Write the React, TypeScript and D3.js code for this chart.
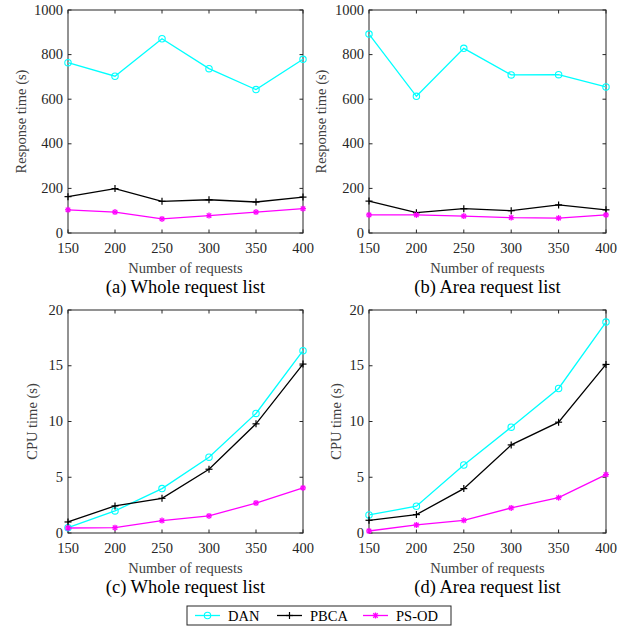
import React from "react";
import * as d3 from "d3";

const requests = [150, 200, 250, 300, 350, 400];
const seriesNames = ["DAN", "PBCA", "PS-OD"];

// (a) Response time, whole request list
const respWholeDAN = [764, 703, 871, 737, 643, 779];
const respWholePBCA = [163, 199, 142, 149, 139, 161];
const respWholePSOD = [104, 94, 63, 78, 94, 109];
// (b) Response time, area request list
const respAreaDAN = [892, 613, 828, 709, 710, 655];
const respAreaPBCA = [143, 91, 109, 100, 126, 104];
const respAreaPSOD = [81, 81, 76, 69, 67, 81];
// (c) CPU time, whole request list
const cpuWholeDAN = [0.48, 1.98, 3.98, 6.8, 10.72, 16.35];
const cpuWholePBCA = [0.99, 2.43, 3.11, 5.72, 9.79, 15.15];
const cpuWholePSOD = [0.45, 0.48, 1.11, 1.53, 2.69, 4.04];
// (d) CPU time, area request list
const cpuAreaDAN = [1.62, 2.4, 6.1, 9.49, 12.96, 18.92];
const cpuAreaPBCA = [1.14, 1.65, 3.98, 7.9, 9.94, 15.12];
const cpuAreaPSOD = [0.18, 0.72, 1.14, 2.25, 3.17, 5.24];

const respTicks = [0, 200, 400, 600, 800, 1000];
const cpuTicks = [0, 5, 10, 15, 20];

const COLORS = ["#00ffff", "#000000", "#ff00ff"];
const AXIS = "#262626";
const FONT = "'Liberation Serif', 'Times New Roman', serif";

type PanelProps = {
  left: number; right: number; top: number; bottom: number;
  yMax: number; yTicks: number[]; yLabel: string; yLabelX: number;
  caption: string; series: number[][];
};

function Marker({ kind, x, y, color }: { kind: number; x: number; y: number; color: string }) {
  if (kind === 0) return <circle cx={x} cy={y} r={3.2} fill="none" stroke={color} strokeWidth={1.1} />;
  if (kind === 1)
    return (
      <g stroke={color} strokeWidth={1.2}>
        <line x1={x - 3.5} x2={x + 3.5} y1={y} y2={y} />
        <line x1={x} x2={x} y1={y - 3.5} y2={y + 3.5} />
      </g>
    );
  const s = 3;
  const t = 2.2;
  return (
    <g stroke={color} strokeWidth={1.3}>
      <line x1={x - s} x2={x + s} y1={y} y2={y} />
      <line x1={x} x2={x} y1={y - s} y2={y + s} />
      <line x1={x - t} x2={x + t} y1={y - t} y2={y + t} />
      <line x1={x - t} x2={x + t} y1={y + t} y2={y - t} />
    </g>
  );
}

function Panel(p: PanelProps) {
  const x = d3.scaleLinear().domain([150, 400]).range([p.left, p.right]);
  const y = d3.scaleLinear().domain([0, p.yMax]).range([p.bottom, p.top]);
  const line = d3.line<number>().x((_, i) => x(requests[i])).y((d) => y(d));
  const tl = 3.5;
  const cx = (p.left + p.right) / 2;
  return (
    <g fontFamily={FONT}>
      <rect x={p.left} y={p.top} width={p.right - p.left} height={p.bottom - p.top} fill="white" stroke={AXIS} strokeWidth={1} />
      {requests.map((r) => (
        <g key={"xt" + r}>
          <line x1={x(r)} x2={x(r)} y1={p.bottom} y2={p.bottom - tl} stroke={AXIS} />
          <line x1={x(r)} x2={x(r)} y1={p.top} y2={p.top + tl} stroke={AXIS} />
          <text x={x(r)} y={p.bottom + 19.5} textAnchor="middle" fontSize={14.5} fill={AXIS}>{r}</text>
        </g>
      ))}
      {p.yTicks.map((t) => (
        <g key={"yt" + t}>
          <line x1={p.left} x2={p.left + tl} y1={y(t)} y2={y(t)} stroke={AXIS} />
          <line x1={p.right} x2={p.right - tl} y1={y(t)} y2={y(t)} stroke={AXIS} />
          <text x={p.left - 5} y={y(t) + 4.5} textAnchor="end" fontSize={14.5} fill={AXIS}>{t}</text>
        </g>
      ))}
      {p.series.map((s, si) => (
        <g key={"s" + si}>
          <path d={line(s) || ""} fill="none" stroke={COLORS[si]} strokeWidth={1.3} />
          {s.map((v, i) => (
            <Marker key={i} kind={si} x={x(requests[i])} y={y(v)} color={COLORS[si]} />
          ))}
        </g>
      ))}
      <text x={cx} y={p.bottom + 40} textAnchor="middle" fontSize={14.5} fill="#404040">Number of requests</text>
      <text
        transform={`translate(${p.yLabelX},${(p.top + p.bottom) / 2}) rotate(-90)`}
        textAnchor="middle" dominantBaseline="middle" fontSize={14.5} fill="#404040"
      >{p.yLabel}</text>
      <text x={cx} y={p.bottom + 60} textAnchor="middle" fontSize={18.5} fill="#000">{p.caption}</text>
    </g>
  );
}

export default function App() {
  const legendX = [195, 277, 363];
  return (
    <svg width={633} height={628} style={{ position: "absolute", left: 0, top: 0, background: "white" }}>
      <rect x={0} y={0} width={633} height={628} fill="white" />
      <Panel left={68} right={303} top={10} bottom={233} yMax={1000} yTicks={respTicks}
        yLabel="Response time (s)" yLabelX={23} caption="(a) Whole request list"
        series={[respWholeDAN, respWholePBCA, respWholePSOD]} />
      <Panel left={369} right={606} top={10} bottom={233} yMax={1000} yTicks={respTicks}
        yLabel="Response time (s)" yLabelX={323} caption="(b) Area request list"
        series={[respAreaDAN, respAreaPBCA, respAreaPSOD]} />
      <Panel left={68} right={303} top={310} bottom={533} yMax={20} yTicks={cpuTicks}
        yLabel="CPU time (s)" yLabelX={34} caption="(c) Whole request list"
        series={[cpuWholeDAN, cpuWholePBCA, cpuWholePSOD]} />
      <Panel left={369} right={606} top={310} bottom={533} yMax={20} yTicks={cpuTicks}
        yLabel="CPU time (s)" yLabelX={338} caption="(d) Area request list"
        series={[cpuAreaDAN, cpuAreaPBCA, cpuAreaPSOD]} />
      <g fontFamily={FONT}>
        <rect x={187} y={606} width={264} height={19} fill="white" stroke={AXIS} strokeWidth={1} />
        {seriesNames.map((n, i) => (
          <g key={n}>
            <line x1={legendX[i]} x2={legendX[i] + 25} y1={615.5} y2={615.5} stroke={COLORS[i]} strokeWidth={1.3} />
            <Marker kind={i} x={legendX[i] + 12.5} y={615.5} color={COLORS[i]} />
            <text x={legendX[i] + 33} y={620.5} fontSize={14.5} fill="#000">{n}</text>
          </g>
        ))}
      </g>
    </svg>
  );
}
